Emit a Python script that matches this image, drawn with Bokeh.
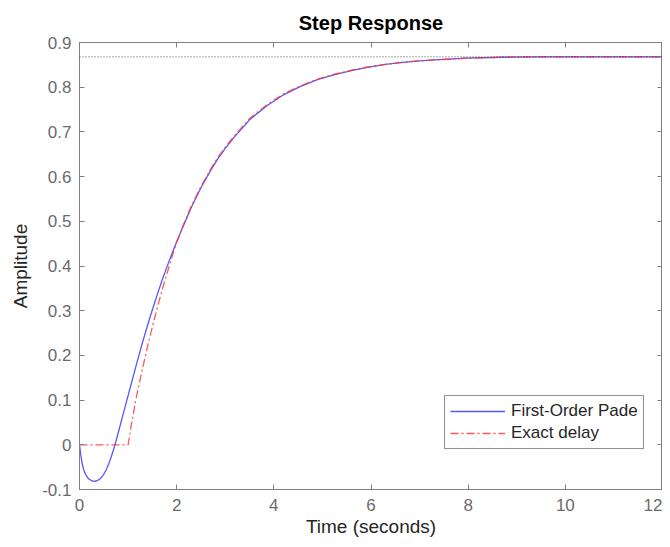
from bokeh.plotting import figure
from bokeh.models import Range1d, FixedTicker, LinearAxis, Legend, LegendItem, Span
from bokeh.embed import file_html
from bokeh.resources import INLINE

# ---- data ----
t_pade = [0, 0.02, 0.05, 0.075, 0.1, 0.13, 0.165, 0.2, 0.25, 0.3, 0.35, 0.4,
          0.45, 0.5, 0.55, 0.6, 0.65, 0.7, 0.75, 0.8, 0.9,
          1.0, 1.1, 1.2, 1.3, 1.4, 1.5, 1.6, 1.7, 1.8, 1.9, 2.0, 2.15, 2.3, 2.5,
          2.7, 2.85, 3.0, 3.2, 3.5, 3.85, 4.2, 4.55, 4.9, 5.25, 5.6, 5.9, 6.3,
          6.6, 7.0, 7.3, 8.0, 8.7, 9.5, 10.5, 12]
y_pade = [0, -0.018, -0.039, -0.051, -0.060, -0.067, -0.073, -0.077, -0.080,
          -0.082, -0.081, -0.078, -0.073, -0.066, -0.056, -0.043, -0.028,
          -0.011, 0.008, 0.028, 0.069,
          0.110, 0.151, 0.191, 0.230, 0.267, 0.302, 0.336, 0.368, 0.398, 0.427,
          0.454, 0.493, 0.531, 0.575, 0.614, 0.640, 0.663, 0.690, 0.727, 0.758,
          0.783, 0.802, 0.817, 0.828, 0.837, 0.844, 0.851, 0.855, 0.859, 0.861,
          0.865, 0.867, 0.868, 0.868, 0.868]

t_exact = [0, 1.0, 1.03, 1.06, 1.1, 1.15, 1.2, 1.3, 1.4, 1.5, 1.6, 1.7, 1.8,
           1.9, 2.0, 2.15, 2.3, 2.5, 2.7, 2.85, 3.0, 3.2, 3.5, 3.85, 4.2, 4.55,
           4.9, 5.25, 5.6, 5.9, 6.3, 6.6, 7.0, 7.3, 8.0, 8.7, 9.5, 10.5, 12]
y_exact = [0, 0, 0.020, 0.040, 0.065, 0.095, 0.122, 0.172, 0.220, 0.264, 0.306,
           0.346, 0.383, 0.419, 0.453, 0.495, 0.534, 0.578, 0.617, 0.643, 0.666,
           0.693, 0.730, 0.760, 0.785, 0.803, 0.818, 0.829, 0.838, 0.845, 0.851,
           0.855, 0.859, 0.861, 0.865, 0.867, 0.868, 0.868, 0.868]

final_value = 0.868

x_ticks = [0, 2, 4, 6, 8, 10, 12]
x_tick_labels = ["0", "2", "4", "6", "8", "10", "12"]
y_ticks = [-0.1, 0, 0.1, 0.2, 0.3, 0.4, 0.5, 0.6, 0.7, 0.8, 0.9]
y_tick_labels = ["-0.1", "0", "0.1", "0.2", "0.3", "0.4", "0.5", "0.6", "0.7",
                 "0.8", "0.9"]

series_names = ["First-Order Pade", "Exact delay"]

FONT = "Liberation Sans"
AX_COL = "#808080"
TICK_COL = "#6b6b6b"
LBL_COL = "#262626"

p = figure(width=662, height=539, output_backend="svg", toolbar_location=None,
           x_range=Range1d(0, 12), y_range=Range1d(-0.1, 0.9),
           min_border_left=79, min_border_right=0, min_border_top=42,
           min_border_bottom=50)

p.title.text = "Step Response"
p.title.align = "center"
p.title.text_font = FONT
p.title.text_font_size = "20px"
p.title.text_font_style = "bold"
p.title.text_color = "#000000"
p.title.standoff = 18

p.grid.visible = False
p.outline_line_color = AX_COL
p.background_fill_color = "white"
p.border_fill_color = "white"

for ax, ticks, labels in ((p.xaxis[0], x_ticks, x_tick_labels),
                          (p.yaxis[0], y_ticks, y_tick_labels)):
    ax.ticker = FixedTicker(ticks=ticks)
    ax.major_label_overrides = {k: v for k, v in zip(ticks, labels)}
    ax.minor_tick_line_color = None
    ax.major_tick_in = 5
    ax.major_tick_out = 0
    ax.axis_line_color = AX_COL
    ax.major_tick_line_color = AX_COL
    ax.major_label_text_font = FONT
    ax.major_label_text_font_size = "17px"
    ax.major_label_text_color = TICK_COL
    ax.axis_label_text_font = FONT
    ax.axis_label_text_font_size = "19px"
    ax.axis_label_text_font_style = "normal"
    ax.axis_label_text_color = LBL_COL

p.xaxis[0].axis_label = "Time (seconds)"
p.yaxis[0].axis_label = "Amplitude"
p.xaxis[0].major_label_standoff = 9
p.yaxis[0].major_label_standoff = 8
p.xaxis[0].axis_label_standoff = 2
p.yaxis[0].axis_label_standoff = 8

top_ax = LinearAxis(ticker=FixedTicker(ticks=x_ticks))
right_ax = LinearAxis(ticker=FixedTicker(ticks=y_ticks))
for ax in (top_ax, right_ax):
    ax.major_label_text_font_size = "0px"
    ax.major_label_standoff = 0
    ax.minor_tick_line_color = None
    ax.major_tick_in = 5
    ax.major_tick_out = 0
    ax.axis_line_color = AX_COL
    ax.major_tick_line_color = AX_COL
p.add_layout(top_ax, "above")
p.add_layout(right_ax, "right")

p.add_layout(Span(location=final_value, dimension="width", line_color="#000000",
                  line_dash="1 2", line_width=1, line_alpha=0.7))

r1 = p.line(t_pade, y_pade, line_color="#3a3aff", line_width=1.3, line_alpha=0.85)
r2 = p.line(t_exact, y_exact, line_color="#ff3a3a", line_width=1.3, line_alpha=0.85,
            line_dash="8 3 2 3")

legend = Legend(items=[LegendItem(label=series_names[0], renderers=[r1]),
                       LegendItem(label=series_names[1], renderers=[r2])],
                location=(365, 40))
legend.border_line_color = LBL_COL
legend.border_line_width = 1
legend.background_fill_color = "white"
legend.background_fill_alpha = 1
legend.label_text_font = FONT
legend.label_text_font_size = "17px"
legend.label_text_color = LBL_COL
legend.glyph_width = 55
legend.glyph_height = 20
legend.label_height = 20
legend.label_standoff = 6
legend.padding = 5
legend.spacing = 2
legend.margin = 0
p.add_layout(legend, "center")

open("out.html", "w").write(file_html(p, INLINE))
